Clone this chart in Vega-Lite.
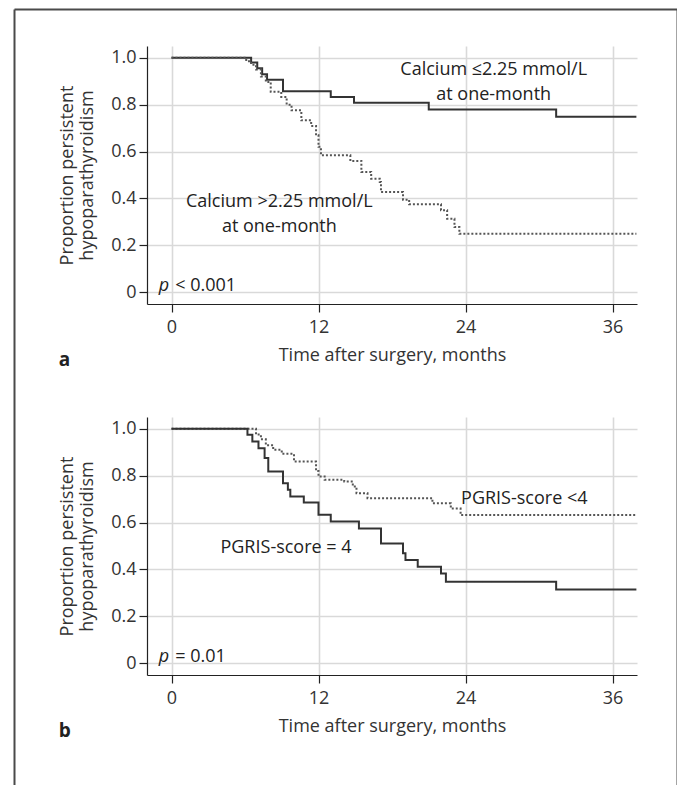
{
  "$schema": "https://vega.github.io/schema/vega-lite/v6.json",
  "padding": {"left": 14, "top": 9, "right": 0, "bottom": 0},
  "autosize": {"type": "pad"},
  "background": "white",
  "spacing": -619,
  "align": "none",
  "bounds": "full",
  "datasets": {
    "a_km": [
      {"t": 0, "s": 1, "g": "le"}, {"t": 6.5, "s": 0.98, "g": "le"}, {"t": 7.0, "s": 0.955, "g": "le"}, {"t": 7.4, "s": 0.93, "g": "le"}, {"t": 7.8, "s": 0.906, "g": "le"}, {"t": 9.1, "s": 0.857, "g": "le"}, {"t": 13.0, "s": 0.833, "g": "le"}, {"t": 14.9, "s": 0.808, "g": "le"}, {"t": 21.0, "s": 0.779, "g": "le"}, {"t": 31.4, "s": 0.748, "g": "le"}, {"t": 37.95, "s": 0.748, "g": "le"},
      {"t": 0, "s": 1, "g": "gt"}, {"t": 6.1, "s": 0.985, "g": "gt"}, {"t": 6.5, "s": 0.97, "g": "gt"}, {"t": 6.9, "s": 0.95, "g": "gt"}, {"t": 7.3, "s": 0.92, "g": "gt"}, {"t": 7.7, "s": 0.897, "g": "gt"}, {"t": 8.1, "s": 0.855, "g": "gt"}, {"t": 8.96, "s": 0.833, "g": "gt"}, {"t": 9.4, "s": 0.8, "g": "gt"}, {"t": 9.8, "s": 0.776, "g": "gt"}, {"t": 10.6, "s": 0.733, "g": "gt"}, {"t": 11.4, "s": 0.709, "g": "gt"}, {"t": 11.8, "s": 0.669, "g": "gt"}, {"t": 12.0, "s": 0.62, "g": "gt"}, {"t": 12.2, "s": 0.584, "g": "gt"}, {"t": 14.6, "s": 0.56, "g": "gt"}, {"t": 15.5, "s": 0.513, "g": "gt"}, {"t": 16.3, "s": 0.484, "g": "gt"}, {"t": 17.0, "s": 0.47, "g": "gt"}, {"t": 17.1, "s": 0.427, "g": "gt"}, {"t": 18.9, "s": 0.395, "g": "gt"}, {"t": 19.4, "s": 0.375, "g": "gt"}, {"t": 22.0, "s": 0.35, "g": "gt"}, {"t": 22.5, "s": 0.313, "g": "gt"}, {"t": 23.1, "s": 0.278, "g": "gt"}, {"t": 23.5, "s": 0.249, "g": "gt"}, {"t": 37.95, "s": 0.249, "g": "gt"}
    ],
    "a_txt": [
      {"t": 26.3, "s": 0.947, "label": "Calcium ≤2.25 mmol/L"},
      {"t": 26.3, "s": 0.84, "label": "at one-month"},
      {"t": 8.8, "s": 0.385, "label": "Calcium >2.25 mmol/L"},
      {"t": 8.8, "s": 0.278, "label": "at one-month"}
    ],
    "a_p": [{"t": -1.05, "s": 0.028, "label": "p", "k": "p"}, {"t": 0.3, "s": 0.028, "label": "< 0.001", "k": "v"}],
    "b_km": [
      {"t": 0, "s": 1, "g": "lt4"}, {"t": 6.9, "s": 0.975, "g": "lt4"}, {"t": 7.3, "s": 0.955, "g": "lt4"}, {"t": 7.7, "s": 0.93, "g": "lt4"}, {"t": 8.3, "s": 0.91, "g": "lt4"}, {"t": 9.0, "s": 0.893, "g": "lt4"}, {"t": 10.0, "s": 0.86, "g": "lt4"}, {"t": 11.8, "s": 0.82, "g": "lt4"}, {"t": 12.0, "s": 0.796, "g": "lt4"}, {"t": 12.5, "s": 0.782, "g": "lt4"}, {"t": 14.1, "s": 0.775, "g": "lt4"}, {"t": 14.8, "s": 0.754, "g": "lt4"}, {"t": 15.1, "s": 0.725, "g": "lt4"}, {"t": 16.0, "s": 0.704, "g": "lt4"}, {"t": 21.3, "s": 0.682, "g": "lt4"}, {"t": 22.8, "s": 0.66, "g": "lt4"}, {"t": 23.6, "s": 0.632, "g": "lt4"}, {"t": 37.95, "s": 0.632, "g": "lt4"},
      {"t": 0, "s": 1, "g": "eq4"}, {"t": 6.2, "s": 0.974, "g": "eq4"}, {"t": 6.6, "s": 0.946, "g": "eq4"}, {"t": 7.1, "s": 0.917, "g": "eq4"}, {"t": 7.6, "s": 0.875, "g": "eq4"}, {"t": 7.9, "s": 0.818, "g": "eq4"}, {"t": 9.1, "s": 0.768, "g": "eq4"}, {"t": 9.5, "s": 0.74, "g": "eq4"}, {"t": 9.7, "s": 0.711, "g": "eq4"}, {"t": 10.8, "s": 0.685, "g": "eq4"}, {"t": 12.0, "s": 0.633, "g": "eq4"}, {"t": 13.0, "s": 0.604, "g": "eq4"}, {"t": 15.3, "s": 0.575, "g": "eq4"}, {"t": 17.1, "s": 0.511, "g": "eq4"}, {"t": 18.9, "s": 0.469, "g": "eq4"}, {"t": 19.1, "s": 0.44, "g": "eq4"}, {"t": 20.1, "s": 0.412, "g": "eq4"}, {"t": 22.0, "s": 0.383, "g": "eq4"}, {"t": 22.4, "s": 0.348, "g": "eq4"}, {"t": 31.4, "s": 0.315, "g": "eq4"}, {"t": 37.95, "s": 0.315, "g": "eq4"}
    ],
    "b_txt": [
      {"t": 28.8, "s": 0.70, "label": "PGRIS-score <4"},
      {"t": 9.35, "s": 0.493, "label": "PGRIS-score = 4"}
    ],
    "b_p": [{"t": -1.05, "s": 0.028, "label": "p", "k": "p"}, {"t": 0.3, "s": 0.028, "label": "= 0.01", "k": "v"}]
  },
  "hconcat": [
    {
      "width": 663, "height": 776,
      "data": {"values": [{"v": 0, "label": ""}]},
      "layer": [
        {
          "mark": {"type": "text"},
          "encoding": {
            "text": {"field": "label"},
            "x": {"field": "v", "type": "quantitative", "axis": {"orient": "top", "ticks": false, "labels": false, "grid": false, "title": null, "domainColor": "#4a4a4a", "domainWidth": 2}},
            "y": {"field": "v", "type": "quantitative", "axis": {"orient": "left", "ticks": false, "labels": false, "grid": false, "title": null, "domainColor": "#4a4a4a", "domainWidth": 2}}
          }
        },
        {
          "mark": {"type": "text"},
          "encoding": {
            "text": {"field": "label"},
            "y": {"field": "v", "type": "quantitative", "axis": {"orient": "right", "ticks": false, "labels": false, "grid": false, "title": null, "domainColor": "#4a4a4a", "domainWidth": 2}}
          }
        }
      ],
      "resolve": {"axis": {"y": "independent"}, "scale": {"y": "independent"}}
    },
    {
      "spacing": 0,
      "vconcat": [
        {
          "width": 1, "height": 37,
          "data": {"values": [{"label": ""}]},
          "mark": {"type": "text"},
          "encoding": {"text": {"field": "label"}}
        },
        {
          "spacing": 47,
          "vconcat": [
            {
              "width": 490, "height": 258,
              "title": {"text": "a", "orient": "bottom", "anchor": "start", "frame": "bounds", "fontSize": 19, "fontWeight": "bold", "offset": -13, "color": "#222"},
              "layer": [
                {
                  "data": {"name": "a_km"},
                  "mark": {"type": "line", "interpolate": "step-after", "clip": true},
                  "encoding": {
                    "x": {"field": "t", "type": "quantitative", "scale": {"domain": [-2, 38], "nice": false, "zero": false}, "axis": {"values": [0, 12, 24, 36], "title": "Time after surgery, months"}},
                    "y": {"field": "s", "type": "quantitative", "scale": {"domain": [-0.05, 1.05], "nice": false, "zero": false}, "axis": {"values": [0, 0.2, 0.4, 0.6, 0.8, 1.0], "labelExpr": "datum.value == 0 ? '0' : format(datum.value, '.1f')", "title": ["Proportion persistent", "hypoparathyroidism"]}},
                    "strokeDash": {"field": "g", "type": "nominal", "scale": {"domain": ["le", "gt"], "range": [[1, 0], [2, 2]]}, "legend": null},
                    "color": {"field": "g", "type": "nominal", "scale": {"domain": ["le", "gt"], "range": ["#333333", "#555555"]}, "legend": null},
                    "strokeWidth": {"field": "g", "type": "nominal", "scale": {"domain": ["le", "gt"], "range": [2, 2]}, "legend": null}
                  }
                },
                {
                  "data": {"name": "a_txt"},
                  "mark": {"type": "text", "align": "center", "baseline": "middle", "fontSize": 18, "color": "#222"},
                  "encoding": {"x": {"field": "t", "type": "quantitative"}, "y": {"field": "s", "type": "quantitative"}, "text": {"field": "label"}}
                },
                {
                  "data": {"name": "a_p"},
                  "transform": [{"filter": "datum.k == 'p'"}],
                  "mark": {"type": "text", "align": "left", "baseline": "middle", "fontSize": 18, "fontStyle": "italic", "color": "#222"},
                  "encoding": {"x": {"field": "t", "type": "quantitative"}, "y": {"field": "s", "type": "quantitative"}, "text": {"field": "label"}}
                },
                {
                  "data": {"name": "a_p"},
                  "transform": [{"filter": "datum.k == 'v'"}],
                  "mark": {"type": "text", "align": "left", "baseline": "middle", "fontSize": 18, "color": "#222"},
                  "encoding": {"x": {"field": "t", "type": "quantitative"}, "y": {"field": "s", "type": "quantitative"}, "text": {"field": "label"}}
                }
              ]
            },
            {
              "width": 490, "height": 258,
              "title": {"text": "b", "orient": "bottom", "anchor": "start", "frame": "bounds", "fontSize": 19, "fontWeight": "bold", "offset": -13, "color": "#222"},
              "layer": [
                {
                  "data": {"name": "b_km"},
                  "mark": {"type": "line", "interpolate": "step-after", "clip": true},
                  "encoding": {
                    "x": {"field": "t", "type": "quantitative", "scale": {"domain": [-2, 38], "nice": false, "zero": false}, "axis": {"values": [0, 12, 24, 36], "title": "Time after surgery, months"}},
                    "y": {"field": "s", "type": "quantitative", "scale": {"domain": [-0.05, 1.05], "nice": false, "zero": false}, "axis": {"values": [0, 0.2, 0.4, 0.6, 0.8, 1.0], "labelExpr": "datum.value == 0 ? '0' : format(datum.value, '.1f')", "title": ["Proportion persistent", "hypoparathyroidism"]}},
                    "strokeDash": {"field": "g", "type": "nominal", "scale": {"domain": ["eq4", "lt4"], "range": [[1, 0], [2, 2]]}, "legend": null},
                    "color": {"field": "g", "type": "nominal", "scale": {"domain": ["eq4", "lt4"], "range": ["#555555", "#444444"]}, "legend": null},
                    "strokeWidth": {"field": "g", "type": "nominal", "scale": {"domain": ["eq4", "lt4"], "range": [1.6, 2]}, "legend": null}
                  }
                },
                {
                  "data": {"name": "b_txt"},
                  "mark": {"type": "text", "align": "center", "baseline": "middle", "fontSize": 18, "color": "#222"},
                  "encoding": {"x": {"field": "t", "type": "quantitative"}, "y": {"field": "s", "type": "quantitative"}, "text": {"field": "label"}}
                },
                {
                  "data": {"name": "b_p"},
                  "transform": [{"filter": "datum.k == 'p'"}],
                  "mark": {"type": "text", "align": "left", "baseline": "middle", "fontSize": 18, "fontStyle": "italic", "color": "#222"},
                  "encoding": {"x": {"field": "t", "type": "quantitative"}, "y": {"field": "s", "type": "quantitative"}, "text": {"field": "label"}}
                },
                {
                  "data": {"name": "b_p"},
                  "transform": [{"filter": "datum.k == 'v'"}],
                  "mark": {"type": "text", "align": "left", "baseline": "middle", "fontSize": 18, "color": "#222"},
                  "encoding": {"x": {"field": "t", "type": "quantitative"}, "y": {"field": "s", "type": "quantitative"}, "text": {"field": "label"}}
                }
              ]
            }
          ]
        }
      ]
    }
  ],
  "config": {
    "font": "Open Sans",
    "view": {"stroke": null},
    "axis": {
      "domainColor": "#222222", "domainWidth": 1.2,
      "tickColor": "#222222", "tickSize": 8, "tickWidth": 1.2,
      "gridColor": "#d9d9d9", "gridWidth": 1.6,
      "labelFontSize": 18, "labelColor": "#333333", "labelFont": "Open Sans",
      "titleFontSize": 18, "titleColor": "#333333", "titleFontWeight": "normal", "titleFont": "Open Sans"
    },
    "axisX": {"labelPadding": 6, "titlePadding": 10},
    "axisY": {"labelPadding": 3, "titlePadding": 14}
  }
}
